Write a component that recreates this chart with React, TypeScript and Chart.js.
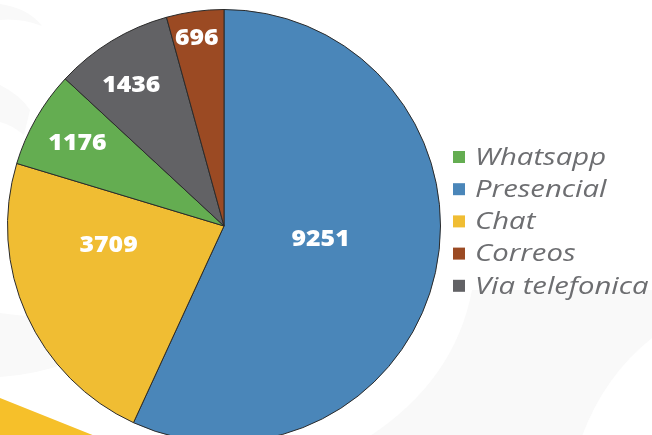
import React, { useEffect, useRef } from "react";
import { Chart, registerables } from "chart.js";

Chart.register(...registerables);

// Slices in clockwise order from 12 o'clock
const categories = ["Presencial", "Chat", "Whatsapp", "Via telefonica", "Correos"];
const values = [9251, 3709, 1176, 1436, 696];
const sliceColors = ["#4a86b9", "#f0bd33", "#64ad51", "#626265", "#9b4a23"];
// Legend order as shown in the reference
const legendOrder = ["Whatsapp", "Presencial", "Chat", "Correos", "Via telefonica"];

// label placement: radial fraction and angle offset (degrees) per slice
const labelPlacement = [
  { r: 0.45, da: -5 },
  { r: 0.54, da: 15 },
  { r: 0.78, da: 0 },
  { r: 0.78, da: -2 },
  { r: 0.88, da: -0.5 },
];

const backgroundPlugin = {
  id: "bgDecor",
  beforeDraw(chart: any) {
    const ctx = chart.ctx;
    ctx.save();
    ctx.fillStyle = "#ffffff";
    ctx.fillRect(0, 0, chart.width, chart.height);
    ctx.fillStyle = "#f9f9f9";
    // top-left swoosh
    ctx.beginPath();
    ctx.moveTo(0, 4);
    ctx.quadraticCurveTo(28, 8, 42, 26);
    ctx.quadraticCurveTo(20, 18, 0, 20);
    ctx.closePath();
    ctx.fill();
    ctx.beginPath();
    ctx.moveTo(0, 85);
    ctx.quadraticCurveTo(20, 95, 30, 110);
    ctx.lineTo(24, 135);
    ctx.quadraticCurveTo(12, 125, 0, 122);
    ctx.closePath();
    ctx.fill();
    // left band
    ctx.beginPath();
    ctx.moveTo(0, 313);
    ctx.quadraticCurveTo(35, 318, 70, 318);
    ctx.lineTo(70, 362);
    ctx.quadraticCurveTo(35, 375, 0, 377);
    ctx.closePath();
    ctx.fill();
    // bottom-right area
    ctx.beginPath();
    ctx.moveTo(472, 290);
    ctx.quadraticCurveTo(455, 380, 370, 436);
    ctx.lineTo(582, 436);
    ctx.quadraticCurveTo(605, 375, 652, 338);
    ctx.lineTo(652, 290);
    ctx.closePath();
    ctx.fill();
    // yellow band at bottom-left
    ctx.fillStyle = "#f6c02a";
    ctx.beginPath();
    ctx.moveTo(0, 398);
    ctx.lineTo(95, 436);
    ctx.lineTo(0, 436);
    ctx.closePath();
    ctx.fill();
    ctx.restore();
  },
};

const labelsPlugin = {
  id: "sliceLabels",
  afterDatasetsDraw(chart: any) {
    const ctx = chart.ctx;
    const meta = chart.getDatasetMeta(0);
    const data = chart.data.datasets[0].data as number[];
    ctx.save();
    ctx.fillStyle = "#ffffff";
    ctx.font = "800 23px 'Open Sans', sans-serif";
    ctx.textAlign = "center";
    ctx.textBaseline = "middle";
    meta.data.forEach((arc: any, i: number) => {
      const p = arc.getProps(["x", "y", "startAngle", "endAngle", "outerRadius"], true);
      const place = labelPlacement[i] || { r: 0.6, da: 0 };
      const mid = (p.startAngle + p.endAngle) / 2 + (place.da * Math.PI) / 180;
      const rr = p.outerRadius * place.r;
      const x = p.x + Math.cos(mid) * rr;
      const y = p.y + Math.sin(mid) * rr;
      ctx.save();
      ctx.translate(x, y + 1);
      ctx.scale(1.08, 1);
      ctx.fillText(String(data[i]), 0, 0);
      ctx.restore();
    });
    ctx.restore();
  },
};

const legendPlugin = {
  id: "customLegend",
  afterDraw(chart: any) {
    const ctx = chart.ctx;
    const labels = chart.data.labels as string[];
    const colors = chart.data.datasets[0].backgroundColor as string[];
    const x0 = 453;
    const y0 = 157;
    const step = 32.2;
    ctx.save();
    ctx.font = "italic 400 24px 'Open Sans', sans-serif";
    ctx.textBaseline = "middle";
    ctx.textAlign = "left";
    legendOrder.forEach((name, k) => {
      const idx = labels.indexOf(name);
      const y = y0 + k * step;
      ctx.fillStyle = colors[idx];
      ctx.fillRect(x0, y - 6, 12, 12);
      ctx.fillStyle = "#6d6e71";
      ctx.save();
      ctx.translate(x0 + 22, y + 1);
      ctx.scale(1.22, 1);
      ctx.fillText(name, 0, 0);
      ctx.restore();
    });
    ctx.restore();
  },
};

export default function App() {
  const ref = useRef<HTMLCanvasElement | null>(null);
  useEffect(() => {
    if (!ref.current) return;
    const chart = new Chart(ref.current, {
      type: "pie",
      data: {
        labels: categories,
        datasets: [
          {
            data: values,
            backgroundColor: sliceColors,
            borderColor: "#2b2b2b",
            borderWidth: 1,
          },
        ],
      },
      options: {
        responsive: false,
        animation: false,
        layout: { padding: { left: 7, top: 9, right: 211, bottom: 17 } },
        plugins: {
          legend: { display: false },
          tooltip: { enabled: false },
        },
      },
      plugins: [backgroundPlugin, labelsPlugin, legendPlugin],
    });
    return () => chart.destroy();
  }, []);
  return (
    <div
      style={{
        position: "fixed",
        left: 0,
        top: 0,
        width: 652,
        height: 435,
        overflow: "hidden",
        background: "#fff",
      }}
    >
      <canvas ref={ref} width={652} height={460} style={{ display: "block" }} />
    </div>
  );
}
